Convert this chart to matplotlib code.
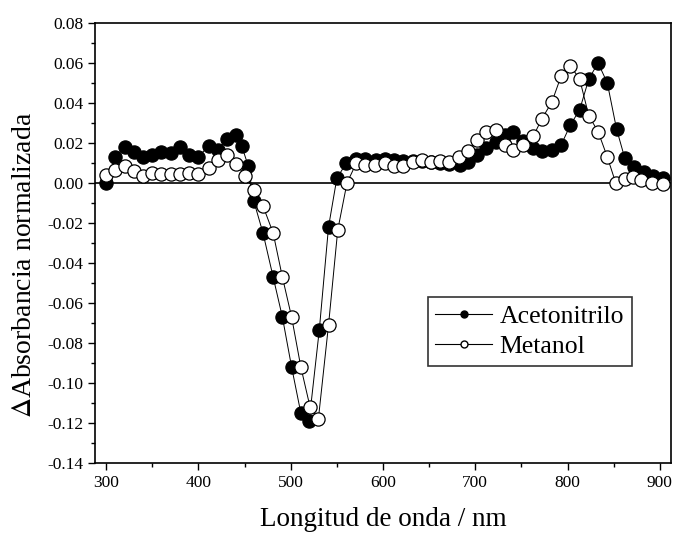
import numpy as np
import matplotlib
matplotlib.use("Agg")
import matplotlib.pyplot as plt
from matplotlib.ticker import MultipleLocator

# wavelengths (nm) and normalised absorbance change
wl_acn = [300, 310, 320, 330, 340, 350, 360, 370, 380, 390, 400, 411, 421, 431, 441,
          447, 454, 460, 470, 481, 491, 501, 511, 520, 531, 541, 550, 560, 571, 581,
          592, 602, 612, 622, 632, 642, 652, 662, 672, 683, 692, 702, 712, 722, 732,
          741, 752, 762, 772, 783, 793, 803, 813, 823, 833, 843, 853, 862, 872, 883,
          893, 903]
abs_acn = [0.000, 0.0128, 0.018, 0.0157, 0.013, 0.014, 0.0157, 0.015, 0.018, 0.014,
           0.013, 0.0185, 0.0165, 0.022, 0.024, 0.0185, 0.0085, -0.009, -0.025, -0.047,
           -0.067, -0.092, -0.115, -0.119, -0.0735, -0.022, 0.0023, 0.0098, 0.012, 0.012,
           0.0115, 0.012, 0.0115, 0.011, 0.011, 0.011, 0.0105, 0.010, 0.0095, 0.009,
           0.0107, 0.014, 0.0173, 0.0207, 0.024, 0.0257, 0.021, 0.0173, 0.016, 0.0165,
           0.019, 0.029, 0.0365, 0.052, 0.060, 0.050, 0.027, 0.0123, 0.008, 0.0057,
           0.0035, 0.0023]

wl_meoh = [300, 310, 320, 330, 340, 350, 360, 370, 380, 390, 400, 411, 421, 431, 441,
           451, 460, 470, 481, 491, 501, 511, 521, 530, 541, 551, 561, 571, 581, 591,
           602, 612, 622, 632, 642, 652, 662, 672, 682, 692, 702, 712, 722, 732, 741,
           752, 763, 772, 783, 793, 803, 813, 823, 833, 843, 852, 862, 871, 880, 891,
           903]
abs_meoh = [0.004, 0.0065, 0.0085, 0.006, 0.0035, 0.005, 0.0045, 0.0045, 0.0045, 0.005,
            0.0045, 0.0073, 0.0115, 0.014, 0.0095, 0.0035, -0.0035, -0.0115, -0.025, -0.047,
            -0.067, -0.092, -0.112, -0.118, -0.071, -0.0235, 0.000, 0.0098, 0.009, 0.009,
            0.0098, 0.0085, 0.0085, 0.0107, 0.0115, 0.0107, 0.011, 0.0107, 0.0128, 0.016,
            0.0215, 0.0257, 0.0265, 0.019, 0.0167, 0.019, 0.0235, 0.032, 0.0405, 0.0535,
            0.0585, 0.052, 0.0335, 0.0257, 0.013, 0.0002, 0.002, 0.003, 0.0015, 0.0002,
            -0.0005]

plt.rcParams['font.family'] = 'Liberation Serif'
plt.rcParams['mathtext.fontset'] = 'stix'

fig = plt.figure(figsize=(6.76, 5.33), dpi=100)
ax = fig.add_axes([0.1405, 0.1313, 0.8521, 0.8257])

ax.axhline(0, color='black', lw=1.2, zorder=1)

ax.plot(wl_acn, abs_acn, '-', color='black', lw=0.7, marker='o', ms=9.5,
        mfc='black', mec='black', mew=0.9, zorder=2)
ax.plot(wl_meoh, abs_meoh, '-', color='black', lw=0.7, marker='o', ms=9.5,
        mfc='white', mec='black', mew=0.9, zorder=3)

ax.set_xlim(288, 912)
ax.set_ylim(-0.14, 0.08)
ax.xaxis.set_major_locator(MultipleLocator(100))
ax.xaxis.set_minor_locator(MultipleLocator(50))
ax.yaxis.set_major_locator(MultipleLocator(0.02))
ax.yaxis.set_minor_locator(MultipleLocator(0.01))
ax.yaxis.set_major_formatter(plt.FuncFormatter(lambda v, p: f"{v:.2f}"))
ax.tick_params(which='major', direction='out', length=5, width=1, labelsize=12.5)
ax.tick_params(which='minor', direction='out', length=3, width=1)
for s in ax.spines.values():
    s.set_linewidth(1.2)

ax.set_xlabel('Longitud de onda / nm', fontsize=19.5, labelpad=12)
ax.set_ylabel(r'$\Delta$Absorbancia normalizada', fontsize=20)
ax.yaxis.set_label_coords(-0.10, 0.45)

# legend handles use small markers like the original
h1, = ax.plot([], [], '-', color='black', lw=0.8, marker='o', ms=5, mfc='black', mec='black')
h2, = ax.plot([], [], '-', color='black', lw=0.8, marker='o', ms=5, mfc='white', mec='black')
leg = ax.legend([h1, h2], ['Acetonitrilo', 'Metanol'], loc='lower right',
                fontsize=18.5, frameon=True, fancybox=False, edgecolor='black',
                handlelength=2.2, handletextpad=0.3, borderpad=0.3, labelspacing=0.3,
                borderaxespad=0)
leg.get_frame().set_linewidth(1.2)
leg.set_bbox_to_anchor((0.932, 0.22), transform=ax.transAxes)

fig.savefig('out.png', dpi=100)
